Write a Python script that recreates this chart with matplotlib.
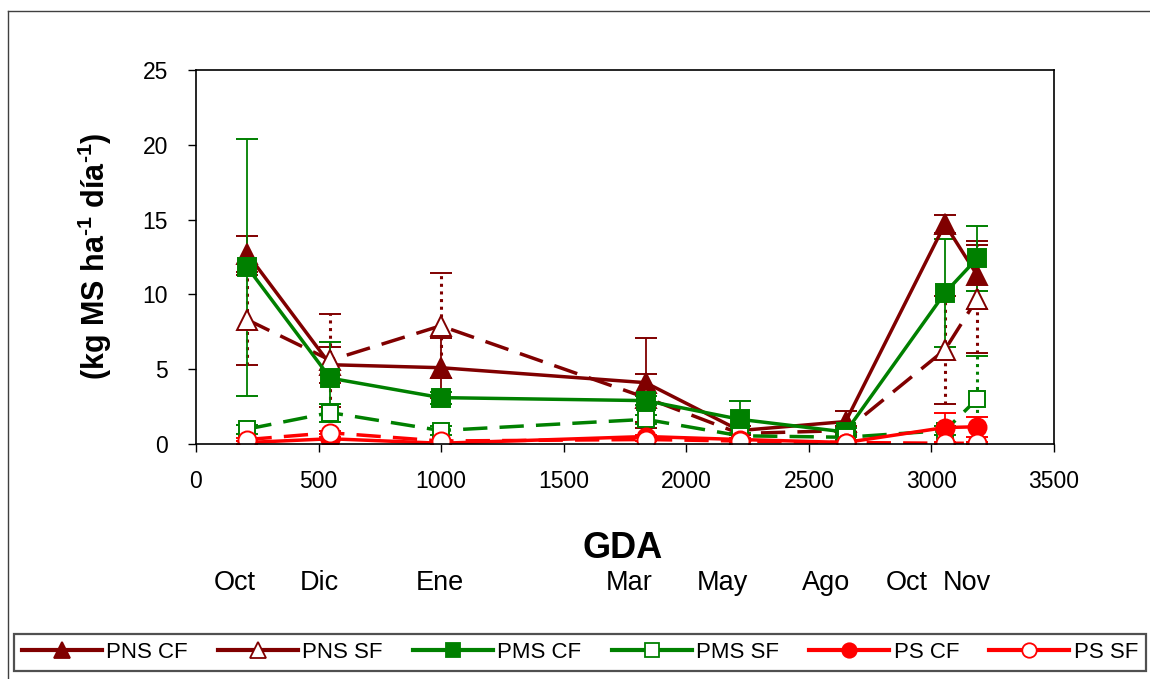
import matplotlib
matplotlib.use("Agg")
import matplotlib.pyplot as plt
from matplotlib.lines import Line2D

plt.rcParams['font.family'] = ['Liberation Sans', 'DejaVu Sans']
plt.rcParams['mathtext.fontset'] = 'custom'
plt.rcParams['mathtext.rm'] = 'Liberation Sans:bold'
plt.rcParams['mathtext.bf'] = 'Liberation Sans:bold'

# GDA (grados dia acumulados) for each sampling date
gda = [210, 548, 998, 1834, 2218, 2650, 3055, 3186]

pns_cf = [12.7, 5.3, 5.1, 4.1, 0.9, 1.5, 14.7, 11.3]
pns_cf_err = [1.2, 1.2, 2.0, 3.0, 0.3, 0.7, 0.6, 2.3]
pns_sf = [8.3, 5.6, 7.9, 3.1, 0.7, 0.9, 6.3, 9.7]
pns_sf_err = [3.0, 3.1, 3.5, 1.6, 0.3, 0.3, 3.6, 3.6]
pms_cf = [11.8, 4.4, 3.1, 2.9, 1.65, 0.8, 10.1, 12.4]
pms_cf_err = [8.6, 2.4, 0.4, 0.3, 1.25, 0.3, 3.6, 2.2]
pms_sf = [1.0, 2.1, 0.9, 1.65, 0.55, 0.45, 0.9, 3.0]
pms_sf_err = [0.3, 0.6, 0.3, 0.3, 0.2, 0.2, 0.3, 2.9]
ps_cf = [0.1, 0.35, 0.05, 0.5, 0.3, 0.1, 1.1, 1.15]
ps_cf_err = [0.1, 0.1, 0.05, 0.1, 0.1, 0.05, 1.0, 0.65]
ps_sf = [0.3, 0.75, 0.2, 0.3, 0.2, 0.1, 0.05, 0.05]
ps_sf_err = [0.1, 0.1, 0.1, 0.1, 0.05, 0.05, 0.1, 0.1]

months = ['Oct', 'Dic', 'Ene', 'Mar', 'May', 'Ago', 'Oct', 'Nov']
month_px = [235, 319, 440, 629, 722, 826, 907, 967]

DARK = '#800000'
GREEN = '#008000'
RED = '#FF0000'

series = [
    ('PNS CF', pns_cf, pns_cf_err, DARK, '^', True, 14),
    ('PNS SF', pns_sf, pns_sf_err, DARK, '^', False, 14),
    ('PMS CF', pms_cf, pms_cf_err, GREEN, 's', True, 13),
    ('PMS SF', pms_sf, pms_sf_err, GREEN, 's', False, 12),
    ('PS CF', ps_cf, ps_cf_err, RED, 'o', True, 13),
    ('PS SF', ps_sf, ps_sf_err, RED, 'o', False, 13),
]

W, H = 1150, 679
fig = plt.figure(figsize=(W / 100, H / 100), dpi=100)
ax = fig.add_axes([196 / W, 1 - 444 / H, (1054 - 196) / W, (444 - 70) / H])

handles = []
for name, vals, err, col, mk, filled, ms in series:
    face = col if filled else 'white'
    ls = '-' if filled else (0, (7, 3.5))
    eb = ax.errorbar(gda, vals, yerr=err, color=col, ecolor=col,
                     elinewidth=1.3 if filled else 2.2, capsize=8, capthick=1.5,
                     lw=2.5, linestyle=ls, marker=mk, markersize=ms,
                     markerfacecolor=face, markeredgecolor=col,
                     markeredgewidth=1.4)
    if not filled:
        eb[2][0].set_linestyle((0, (1, 1.5)))
    handles.append(Line2D([], [], color=col, lw=3, linestyle='-',
                          marker=mk, markersize=ms * 0.8,
                          markerfacecolor=face, markeredgecolor=col,
                          markeredgewidth=1.3))

ax.set_xlim(0, 3500)
ax.set_ylim(0, 25)
ax.set_xticks(range(0, 3501, 500))
ax.set_yticks(range(0, 26, 5))
ax.tick_params(direction='out', length=6, width=1, labelsize=16.5)
ax.tick_params(axis='x', pad=13)
ax.tick_params(axis='y', pad=14)
for s in ax.spines.values():
    s.set_linewidth(1.2)

fig.text(95 / W, 1 - 256 / H,
         r'(kg MS ha$^{\text{-1}}$ día$^{\text{-1}}$)',
         rotation=90, ha='center', va='center', fontsize=22, fontweight='bold')
fig.text(623 / W, 1 - 549 / H, 'GDA', ha='center', va='center',
         fontsize=26, fontweight='bold')
for m, px in zip(months, month_px):
    fig.text(px / W, 1 - 583 / H, m, ha='center', va='center', fontsize=19.5)

# outer frame (top and left edges visible)
fig.add_artist(Line2D([8 / W, 8 / W], [0, 1 - 11 / H], color='#404040', lw=1))
fig.add_artist(Line2D([8 / W, 1], [1 - 11 / H, 1 - 11 / H], color='#404040', lw=1))

leg = fig.legend(handles, [s[0] for s in series], ncol=6, mode='expand',
                 loc='lower left',
                 bbox_to_anchor=(14 / W, 1 - 671 / H, (1146 - 14) / W, 39 / H),
                 borderaxespad=0, fancybox=False, edgecolor='#505050',
                 fontsize=16, handlelength=3.6, handletextpad=0.2,
                 columnspacing=0.4, borderpad=0.35, framealpha=1)
leg.get_frame().set_linewidth(1.6)

fig.savefig('out.png', dpi=100)
